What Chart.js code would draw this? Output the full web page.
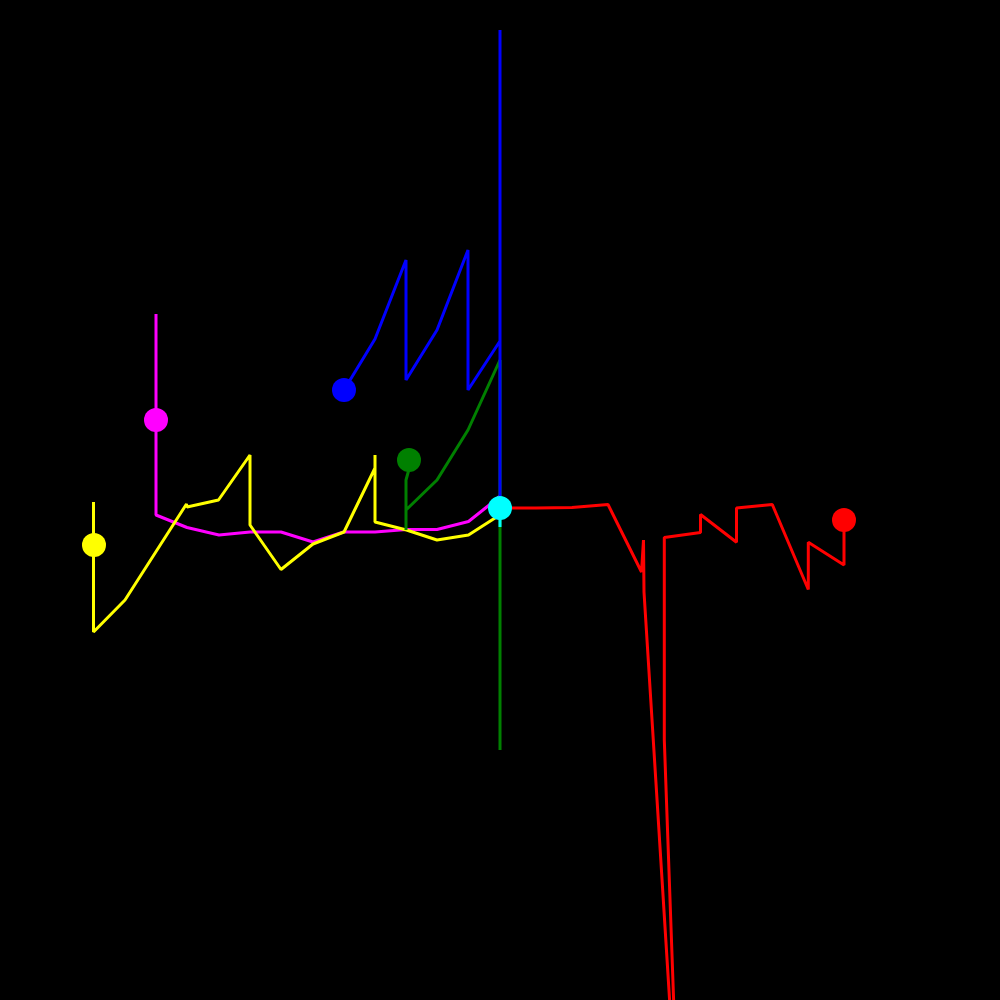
<!DOCTYPE html>
<html>
<head>
<meta charset="utf-8">
<script src="https://cdn.jsdelivr.net/npm/chart.js@4"></script>
<style>
html,body{margin:0;padding:0;background:#000;}
#wrap{width:1000px;height:1000px;position:relative;}
</style>
</head>
<body>
<div id="wrap"><canvas id="c" width="1000" height="1000"></canvas></div>
<script>
// Series values (x = offset from centre, y = value above centre)
const blueX = [-156, -125, -94, -94, -63, -32, -32, 0, 0, 0];
const blueY = [118, 169, 248, 128, 178, 258, 118, 167, 478, 3];

const greenX = [-91, -91.5, -94, -94, -94, -63, -32, 0, 0];
const greenY = [48, 37, 28, -22, -2, 28, 78, 148, -242];

const magentaX = [-344, -344, -313, -281, -250, -219, -187, -156.5, -125, -93.5, -63, -31.5, -12, 0];
const magentaY = [194, -7, -19.5, -27, -24, -24, -34, -24, -24, -21.5, -21.5, -13.5, 2, 12];

const yellowX = [-406.5, -406.5, -375, -313.5, -313, -281.5, -250, -250, -219, -187, -156, -125, -125, -125, -93.5, -63, -31.5, -5, 0];
const yellowY = [6, -124, -92, 4, 1, 8, 53, -17, -61.5, -36, -24, 40, 53, -14, -22, -32, -27, -10, -7];

const redX = [0, 36, 72, 108, 141.5, 143.5, 144, 179, 164.3, 164.3, 200.5, 200.5, 236.5, 236.5, 272.3, 308.3, 308.3, 344, 344];
const redY = [0, 0, 0.5, 3.5, -64, -32, -84, -642, -232, -29.5, -24.5, -6.5, -34.3, 0, 3.5, -81.5, -34.3, -57, -12];

const cyanX = [0, 0];
const cyanY = [0, -19];

// Marker (dot) positions
const dotX = [-156, -91, -344, -406, 344, 0];
const dotY = [118, 48, 88, -37, -12, 0];

const toPts = (xs, ys) => xs.map((x, i) => ({x: x, y: ys[i]}));
const dotColors = ['#0000ff', '#008000', '#ff00ff', '#ffff00', '#ff0000', '#00ffff'];

function lineSet(label, xs, ys, color, order) {
  return {
    label: label,
    data: toPts(xs, ys),
    showLine: true,
    borderColor: color,
    backgroundColor: color,
    borderWidth: 3,
    pointRadius: 0,
    pointHoverRadius: 0,
    tension: 0,
    fill: false,
    borderJoinStyle: 'bevel',
    clip: false,
    order: order
  };
}

new Chart(document.getElementById('c'), {
  type: 'scatter',
  data: {
    datasets: [
      {
        label: 'dots',
        data: toPts(dotX, dotY),
        showLine: false,
        pointRadius: 12,
        pointBorderWidth: 0,
        pointBackgroundColor: dotColors,
        pointBorderColor: dotColors,
        clip: false,
        order: 0
      },
      lineSet('cyan', cyanX, cyanY, '#00ffff', 1),
      lineSet('red', redX, redY, '#ff0000', 2),
      lineSet('blue', blueX, blueY, '#0000ff', 3),
      lineSet('green', greenX, greenY, '#008000', 4),
      lineSet('yellow', yellowX, yellowY, '#ffff00', 5),
      lineSet('magenta', magentaX, magentaY, '#ff00ff', 6)
    ]
  },
  options: {
    responsive: false,
    animation: false,
    events: [],
    layout: {padding: 0, autoPadding: false},
    plugins: {legend: {display: false}, tooltip: {enabled: false}},
    scales: {
      x: {type: 'linear', min: -500, max: 500, display: false},
      y: {type: 'linear', min: -492, max: 508, display: false}
    }
  }
});
</script>
</body>
</html>
